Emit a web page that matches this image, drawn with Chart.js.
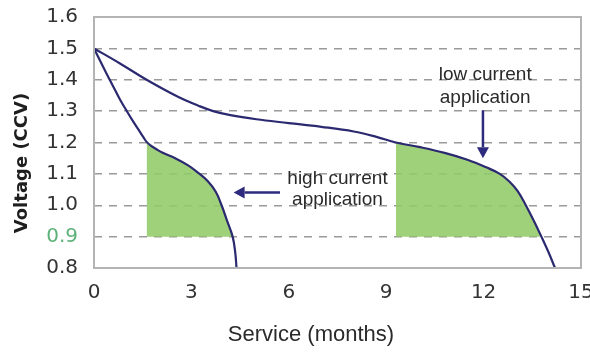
<!DOCTYPE html>
<html lang="en">
<head>
  <meta charset="UTF-8">
  <title>Voltage vs Service</title>
  <script src="https://cdn.jsdelivr.net/npm/chart.js"></script>
  <style>
    body {
      margin: 0;
      padding: 0;
      background: #ffffff;
    }
    #wrap {
      width: 590px;
      height: 354px;
    }
  </style>
</head>
<body>
  <div id="wrap">
    <canvas id="voltChart" width="590" height="354"></canvas>
  </div>

  <script>
    // discharge curves, (months, volts)
    const highMonths = [0, 0.2, 0.4, 0.6, 0.8, 1.0, 1.2, 1.4, 1.52, 1.62, 1.75, 1.9, 2.1, 2.5, 2.9, 3.2, 3.5, 3.75, 3.93, 4.1, 4.27, 4.35, 4.39];
    const highVolts  = [1.5, 1.458, 1.417, 1.377, 1.337, 1.302, 1.268, 1.236, 1.217, 1.202, 1.19, 1.18, 1.168, 1.15, 1.127, 1.104, 1.077, 1.043, 1.0, 0.95, 0.9, 0.85, 0.8];

    const lowMonths = [0, 0.8, 1.62, 2.6, 3.2, 3.67, 4.2, 5.0, 6.0, 7.0, 8.0, 8.7, 9.3, 10.0, 10.8, 11.5, 12.1, 12.5, 12.8, 13.05, 13.3, 13.55, 13.78, 14.0, 14.2];
    const lowVolts  = [1.5, 1.452, 1.4, 1.345, 1.318, 1.3, 1.287, 1.274, 1.262, 1.25, 1.235, 1.218, 1.2, 1.186, 1.167, 1.145, 1.12, 1.1, 1.075, 1.045, 1.0, 0.95, 0.9, 0.85, 0.8];

    // shaded usable range: from the 1.2 V point down to the 0.9 V cutoff
    const cutoffVolt = 0.9;
    const highShadeFrom = 1.62;
    const lowShadeFrom = 9.3;

    const xTicks = [0, 3, 6, 9, 12, 15];
    const yTicks = [0.8, 0.9, 1.0, 1.1, 1.2, 1.3, 1.4, 1.5, 1.6];

    // annotation labels (x in months, y in volts)
    const notes = [
      { lines: ['high current', 'application'], x: 7.5, y: [1.086, 1.016] },
      { lines: ['low current', 'application'], x: 12.05, y: [1.417, 1.344] }
    ];
    const arrows = [
      { from: [5.73, 1.041], to: [4.3, 1.041] },
      { from: [11.98, 1.303], to: [11.98, 1.15] }
    ];

    const lineColor = '#2b2970';
    const shadeColor = 'rgba(146, 201, 104, 0.88)';

    function toPoints(xs, ys) {
      return xs.map((x, i) => ({ x: x, y: ys[i] }));
    }

    function shadePoints(xs, ys, fromX) {
      return toPoints(xs, ys).filter(p => p.x >= fromX && p.y >= cutoffVolt);
    }

    // frame, titles, notes and arrows
    const extras = {
      id: 'extras',
      afterDraw(chart) {
        const ctx = chart.ctx;
        const a = chart.chartArea;
        const xs = chart.scales.x;
        const ys = chart.scales.y;

        ctx.save();
        ctx.strokeStyle = '#b4b4b4';
        ctx.lineWidth = 2;
        ctx.strokeRect(a.left, a.top, a.right - a.left, a.bottom - a.top);

        ctx.fillStyle = '#2a2a2a';
        ctx.textAlign = 'center';
        ctx.textBaseline = 'middle';
        ctx.font = '22px "Liberation Sans", Arial, sans-serif';
        ctx.fillText('Service (months)', 311, 335);

        ctx.save();
        ctx.translate(22, 163);
        ctx.rotate(-Math.PI / 2);
        ctx.font = 'bold 18px "DejaVu Sans", Verdana, sans-serif';
        ctx.fillStyle = '#1e1e1e';
        ctx.fillText('Voltage (CCV)', 0, 0);
        ctx.restore();

        ctx.font = '19px "Liberation Sans", Arial, sans-serif';
        ctx.fillStyle = '#2a2a2a';
        notes.forEach(n => {
          n.lines.forEach((t, i) => {
            ctx.fillText(t, xs.getPixelForValue(n.x), ys.getPixelForValue(n.y[i]));
          });
        });

        ctx.strokeStyle = '#2e2a7e';
        ctx.fillStyle = '#2e2a7e';
        ctx.lineWidth = 2.5;
        arrows.forEach(ar => {
          const x1 = xs.getPixelForValue(ar.from[0]);
          const y1 = ys.getPixelForValue(ar.from[1]);
          const x2 = xs.getPixelForValue(ar.to[0]);
          const y2 = ys.getPixelForValue(ar.to[1]);
          const ang = Math.atan2(y2 - y1, x2 - x1);
          const head = 11;
          const bx = x2 - head * Math.cos(ang);
          const by = y2 - head * Math.sin(ang);
          ctx.beginPath();
          ctx.moveTo(x1, y1);
          ctx.lineTo(bx, by);
          ctx.stroke();
          ctx.beginPath();
          ctx.moveTo(x2, y2);
          ctx.lineTo(bx + 6 * Math.sin(ang), by - 6 * Math.cos(ang));
          ctx.lineTo(bx - 6 * Math.sin(ang), by + 6 * Math.cos(ang));
          ctx.closePath();
          ctx.fill();
        });
        ctx.restore();
      }
    };

    const ctx = document.getElementById('voltChart').getContext('2d');
    new Chart(ctx, {
      type: 'line',
      data: {
        datasets: [
          {
            label: 'high current',
            data: toPoints(highMonths, highVolts),
            borderColor: lineColor,
            borderWidth: 2.2,
            pointRadius: 0,
            tension: 0.4,
            fill: false,
            order: 0
          },
          {
            label: 'low current',
            data: toPoints(lowMonths, lowVolts),
            borderColor: lineColor,
            borderWidth: 2.2,
            pointRadius: 0,
            tension: 0.4,
            fill: false,
            order: 0
          },
          {
            label: 'high shade',
            data: shadePoints(highMonths, highVolts, highShadeFrom),
            borderWidth: 0,
            pointRadius: 0,
            tension: 0.4,
            backgroundColor: shadeColor,
            fill: { value: cutoffVolt },
            order: 1
          },
          {
            label: 'low shade',
            data: shadePoints(lowMonths, lowVolts, lowShadeFrom),
            borderWidth: 0,
            pointRadius: 0,
            tension: 0.4,
            backgroundColor: shadeColor,
            fill: { value: cutoffVolt },
            order: 1
          }
        ]
      },
      options: {
        responsive: false,
        animation: false,
        layout: { padding: { top: 17, right: 9, left: 0, bottom: 0 } },
        plugins: {
          legend: { display: false },
          tooltip: { enabled: false }
        },
        scales: {
          x: {
            type: 'linear',
            min: 0,
            max: 15,
            afterFit(s) {
              s.height = 86;
              s.paddingLeft = 0;
              s.paddingRight = 0;
            },
            afterBuildTicks(s) { s.ticks = xTicks.map(v => ({ value: v })); },
            grid: { display: false, drawTicks: false },
            border: { display: false },
            ticks: {
              padding: 13,
              color: '#333',
              font: { family: '"DejaVu Sans", Verdana, sans-serif', size: 20 }
            }
          },
          y: {
            min: 0.8,
            max: 1.6,
            afterFit(s) {
              s.width = 94;
              s.paddingTop = 0;
              s.paddingBottom = 0;
            },
            afterBuildTicks(s) { s.ticks = yTicks.map(v => ({ value: v })); },
            border: { display: false, dash: [8, 7] },
            grid: {
              drawTicks: false,
              color: c => (c.tick && (c.tick.value <= 0.8 || c.tick.value >= 1.6)) ? 'rgba(0,0,0,0)' : '#9a9a9a',
              lineWidth: 1.5
            },
            ticks: {
              padding: 16,
              color: c => Math.abs(c.tick.value - 0.9) < 1e-6 ? '#5db27a' : '#333',
              font: { family: '"DejaVu Sans", Verdana, sans-serif', size: 20 },
              callback: v => v.toFixed(1)
            }
          }
        }
      },
      plugins: [extras]
    });
  </script>
</body>
</html>
